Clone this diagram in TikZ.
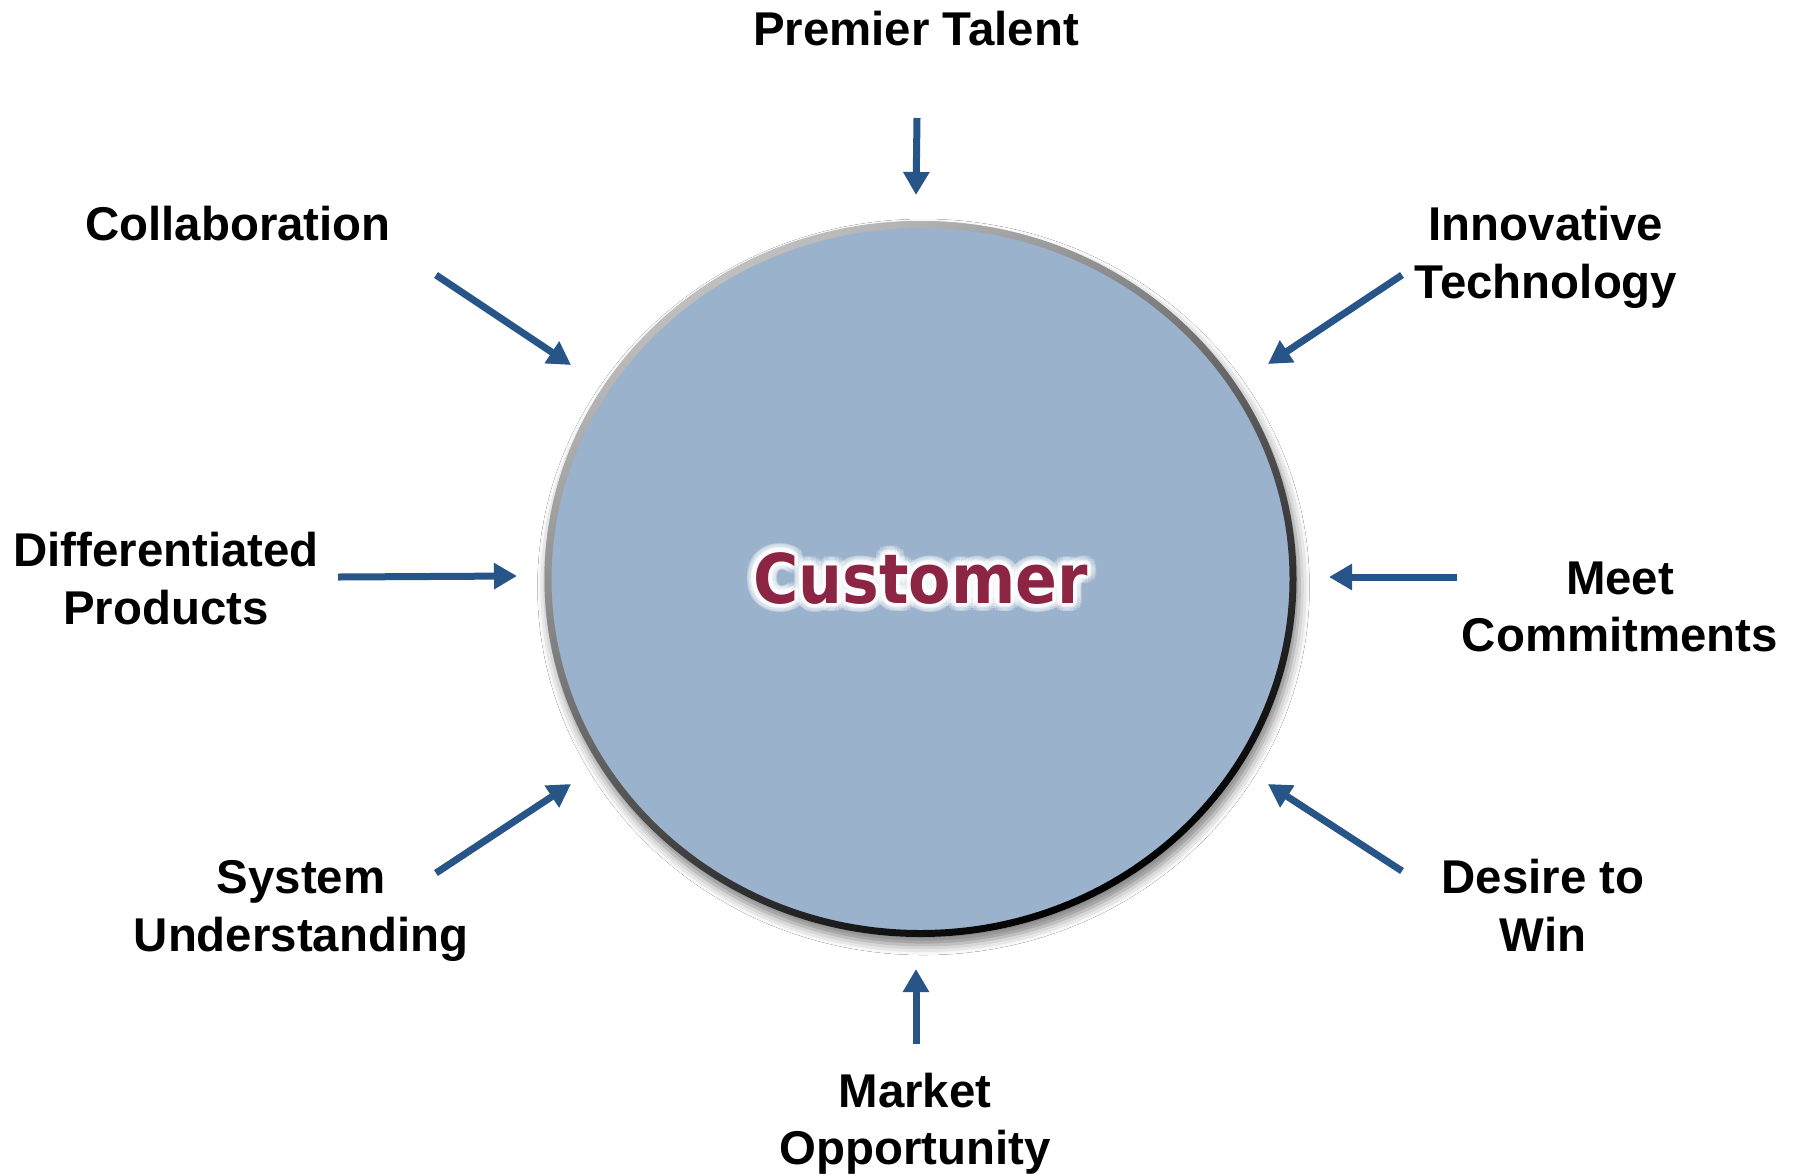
\documentclass[tikz,border=0pt]{standalone}
\usepackage{fontspec}
\setmainfont{Liberation Sans}
\newfontfamily\custfont{DejaVu Sans}
\usetikzlibrary{arrows.meta,shadows.blur}
\definecolor{arrowblue}{RGB}{40,85,135}
\definecolor{discblue}{RGB}{154,178,204}
\definecolor{custred}{RGB}{140,36,68}
\begin{document}
\begin{tikzpicture}[x=0.5pt,y=-0.5pt,
  lbl/.style={font=\fontsize{23.7}{28.7}\selectfont\bfseries, anchor=base, inner sep=0pt},
  arr/.style={draw=arrowblue, line width=3.5pt, -{Triangle[length=11.5pt,width=12.5pt]}},
  custtext/.style={font=\custfont\bfseries\fontsize{34.3}{40}\selectfont, anchor=base, inner sep=0pt},
]
\useasboundingbox (0,0) rectangle (1799,1174);
\fill[white] (0,0) rectangle (1799,1174);

% disc
\fill[discblue, blur shadow={shadow xshift=1.5pt, shadow yshift=-4pt, shadow blur radius=5pt, shadow opacity=50}] (920.5,579) ellipse (376 and 358);
\path[even odd rule, top color=gray!50, middle color=black!78, bottom color=black, shading angle=30]
  (920.5,579) ellipse (376 and 358) (920.5,579) ellipse (369 and 351);
\node[inner sep=0pt, minimum width=0pt] (disc) at (920.5,579) {};

% Customer with glow
\foreach \a [count=\i] in {0,20,...,340}{
  \node[custtext, text=white, opacity=0.22] (glowa\i) at ([shift={(\a:9)}]920.5,603) {\scalebox{0.9}[1]{Customer}};
  \node[custtext, text=white, opacity=0.35] (glowb\i) at ([shift={(\a:4.5)}]920.5,603) {\scalebox{0.9}[1]{Customer}};
}
\node[custtext, text=custred] (cust) at (920.5,603) {\scalebox{0.9}[1]{Customer}};

% labels
\node[lbl] (premier) at (916,45.7) {Premier Talent};
\node[lbl] (collab) at (238,240.7) {Collaboration};
\node[lbl] (innov1) at (1546,240.7) {Innovative};
\node[lbl] (innov2) at (1546,298) {Technology};
\node[lbl] (diff1) at (166,566.5) {Differentiated};
\node[lbl] (diff2) at (166,624) {Products};
\node[lbl] (meet1) at (1620,594) {Meet};
\node[lbl] (meet2) at (1620,651.5) {Commitments};
\node[lbl] (sys1) at (301,893.5) {System};
\node[lbl] (sys2) at (301,951) {Understanding};
\node[lbl] (desire1) at (1543,893.5) {Desire to};
\node[lbl] (desire2) at (1543,951) {Win};
\node[lbl] (market1) at (915,1107) {Market};
\node[lbl] (market2) at (915,1164) {Opportunity};

% arrow coordinates
\coordinate (pTs) at (917,118);  \coordinate (pTe) at (916,195);
\coordinate (cOs) at (436,275);  \coordinate (cOe) at (571,365);
\coordinate (iNs) at (1402,275); \coordinate (iNe) at (1268,364);
\coordinate (dFs) at (338,577);  \coordinate (dFe) at (517,576);
\coordinate (mCs) at (1457,577); \coordinate (mCe) at (1329,577);
\coordinate (sUs) at (436,873);  \coordinate (sUe) at (571,784);
\coordinate (dWs) at (1402,871); \coordinate (dWe) at (1268,784);
\coordinate (mOs) at (916,1044); \coordinate (mOe) at (916,969);

\draw[arr] (pTs) -- (pTe);
\draw[arr] (cOs) -- (cOe);
\draw[arr] (iNs) -- (iNe);
\draw[arr] (dFs) -- (dFe);
\draw[arr] (mCs) -- (mCe);
\draw[arr] (sUs) -- (sUe);
\draw[arr] (dWs) -- (dWe);
\draw[arr] (mOs) -- (mOe);
\end{tikzpicture}
\end{document}
